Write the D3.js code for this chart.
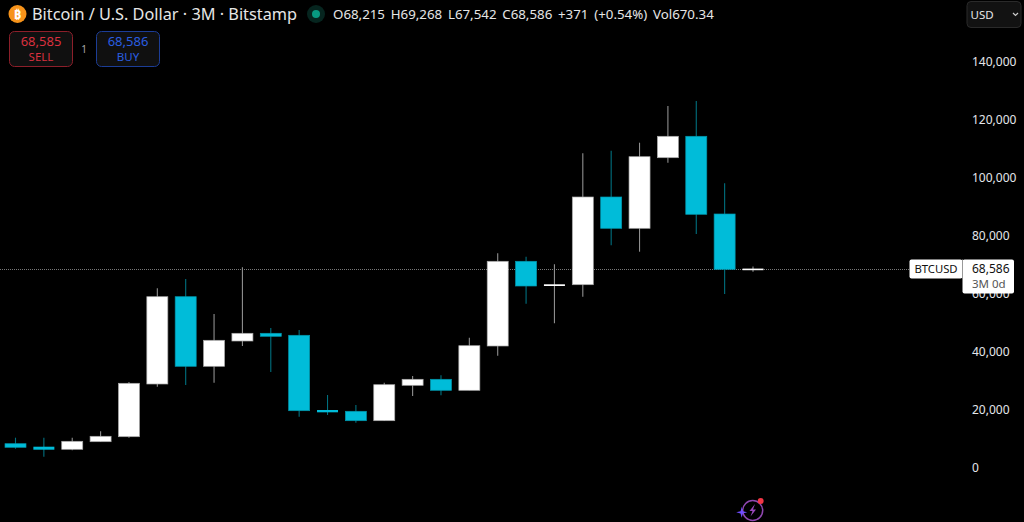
<!DOCTYPE html>
<html>
<head>
<meta charset="utf-8">
<script src="https://d3js.org/d3.v7.min.js"></script>
<style>
  html, body { margin: 0; padding: 0; background: #000; overflow: hidden; }
  text { font-family: "Noto Sans", sans-serif; }
</style>
</head>
<body>
<svg id="chart" width="1024" height="522"></svg>
<script>
// Quarterly candles
var opens  = [8207, 7172, 6276, 8897, 10620, 28793, 58896, 34897, 43620, 46276, 45586, 19828, 19379, 16138, 28345, 30414, 26621, 41897, 71103, 62586, 63034, 93276, 82483, 106828, 114207, 87414, 68215];
var highs  = [10276, 10276, 10276, 12483, 29500, 61793, 65000, 52931, 69034, 48103, 47414, 25000, 21552, 29241, 31552, 31793, 44759, 73862, 72690, 70069, 108345, 109241, 112000, 124655, 126379, 98000, 69268];
var lows   = [6483, 3724, 5931, 8900, 10276, 27862, 28448, 29241, 41897, 32931, 17517, 18103, 15448, 16138, 24655, 24897, 26621, 38552, 56483, 49724, 58897, 76621, 74414, 105103, 80517, 59828, 67542];
var closes = [6966, 6138, 9034, 10759, 29034, 58896, 34897, 43862, 46276, 45241, 19586, 19034, 16138, 28552, 30414, 26621, 42000, 71103, 62586, 63172, 93276, 82483, 107172, 114207, 87310, 68345, 68586];
var yTicks = [0, 20000, 40000, 60000, 80000, 100000, 120000, 140000];
var lastClose = closes[closes.length - 1];

var svg = d3.select("#chart");

var x = d3.scaleLinear().domain([0, opens.length - 1]).range([15.5, 753]);
var y = d3.scaleLinear().domain([0, 140000]).range([467.5, 61.5]);
var bodyWidth = 21;
var fmt = d3.format(",");

// Price axis
var axis = d3.axisRight(y).tickValues(yTicks).tickSize(0).tickPadding(0).tickFormat(fmt);
var axisG = svg.append("g").attr("transform", "translate(972,0)").call(axis);
axisG.select(".domain").remove();
axisG.selectAll("text")
  .attr("fill", "#e4e6eb")
  .style("font-size", "12px")
  .style("font-family", "'Noto Sans', sans-serif");

// Last price line
var lastY = Math.round(y(lastClose)) + 0.5;
svg.append("line")
  .attr("x1", 0).attr("x2", 910)
  .attr("y1", lastY).attr("y2", lastY)
  .attr("stroke", "#777").attr("stroke-dasharray", "1,1");

// Candles
var candles = svg.selectAll("g.candle").data(opens).enter().append("g").attr("class", "candle");

candles.append("line")
  .attr("x1", (d, i) => x(i)).attr("x2", (d, i) => x(i))
  .attr("y1", (d, i) => y(highs[i])).attr("y2", (d, i) => y(lows[i]))
  .attr("stroke", (d, i) => closes[i] >= opens[i] ? "#8f8f8f" : "#00707f")
  .attr("stroke-width", 1.1);

candles.append("rect")
  .attr("x", (d, i) => x(i) - bodyWidth / 2)
  .attr("width", bodyWidth)
  .attr("y", (d, i) => y(Math.max(opens[i], closes[i])))
  .attr("height", (d, i) => Math.max(1.6, Math.abs(y(opens[i]) - y(closes[i]))))
  .attr("fill", (d, i) => closes[i] >= opens[i] ? "#ffffff" : "#00bcd9")
  .attr("stroke", (d, i) => {
    // very thin bodies would turn all border, so leave those unframed
    if (Math.abs(y(opens[i]) - y(closes[i])) < 3) return "none";
    return closes[i] >= opens[i] ? "#a8a8a8" : "#0095ab";
  })
  .attr("stroke-width", 0.7);

// Header
svg.append("circle").attr("cx", 17.5).attr("cy", 14).attr("r", 9).attr("fill", "#f7931a");
svg.append("text").attr("x", 17.5).attr("y", 19).attr("text-anchor", "middle")
  .attr("fill", "#fff").style("font-size", "13px").style("font-weight", 700).text("₿");
svg.append("text").attr("x", 32).attr("y", 20)
  .attr("fill", "#e6e6e6").style("font-size", "16.3px")
  .text("Bitcoin / U.S. Dollar · 3M · Bitstamp");

svg.append("circle").attr("cx", 316).attr("cy", 14).attr("r", 9).attr("fill", "#06251f");
svg.append("circle").attr("cx", 316).attr("cy", 14).attr("r", 4).attr("fill", "#089981");

svg.append("text").attr("x", 333).attr("y", 19)
  .attr("fill", "#e6e6e6").style("font-size", "13.3px").style("word-spacing", "2.3px")
  .text("O" + fmt(opens[26]) + " H" + fmt(highs[26]) + " L" + fmt(lows[26]) + " C" + fmt(closes[26]) + " +371 (+0.54%) Vol670.34");

// Sell / buy buttons
function tradeBox(left, width, stroke, color, price, label) {
  svg.append("rect").attr("x", left).attr("y", 31.5).attr("width", width).attr("height", 35)
    .attr("rx", 5).attr("fill", "#101010").attr("stroke", stroke);
  svg.append("text").attr("x", left + width / 2).attr("y", 46).attr("text-anchor", "middle")
    .attr("fill", color).style("font-size", "13px").text(price);
  svg.append("text").attr("x", left + width / 2).attr("y", 60.5).attr("text-anchor", "middle")
    .attr("fill", color).style("font-size", "11.5px").text(label);
}
tradeBox(9.5, 63, "#8c1f2a", "#d9303f", "68,585", "SELL");
tradeBox(96.5, 63, "#1c3d96", "#2a5ee0", "68,586", "BUY");
svg.append("text").attr("x", 84).attr("y", 53).attr("text-anchor", "middle")
  .attr("fill", "#aaa").style("font-size", "10px").text("1");

// Currency dropdown
svg.append("rect").attr("x", 967).attr("y", 1.5).attr("width", 54).attr("height", 26)
  .attr("rx", 4).attr("fill", "#121212").attr("stroke", "#2a2a2a");
svg.append("text").attr("x", 970.5).attr("y", 19).attr("fill", "#e6e6e6")
  .style("font-size", "11.5px").text("USD");
svg.append("path").attr("d", d3.line()([[1013, 13], [1015.5, 15.5], [1018, 13]]))
  .attr("fill", "none").attr("stroke", "#ccc").attr("stroke-width", 1.2);

// Price label on the axis
svg.append("rect").attr("x", 962.5).attr("y", 259.5).attr("width", 51.5).attr("height", 34)
  .attr("rx", 2).attr("fill", "#fff");
svg.append("rect").attr("x", 909.5).attr("y", 259.5).attr("width", 53).attr("height", 19)
  .attr("rx", 2).attr("fill", "#fff");
svg.append("line").attr("x1", 962.5).attr("x2", 962.5).attr("y1", 259.5).attr("y2", 278.5).attr("stroke", "#999");
svg.append("text").attr("x", 936).attr("y", 273).attr("text-anchor", "middle")
  .attr("fill", "#111").style("font-size", "11.3px").text("BTCUSD");
svg.append("text").attr("x", 972).attr("y", 273)
  .attr("fill", "#111").style("font-size", "12px").text(fmt(lastClose));
svg.append("text").attr("x", 972).attr("y", 288)
  .attr("fill", "#555").style("font-size", "11.5px").text("3M 0d");

// Bottom badge
svg.append("circle").attr("cx", 752.7).attr("cy", 510.5).attr("r", 10)
  .attr("fill", "none").attr("stroke", "#8f47b0").attr("stroke-width", 1.5);
svg.append("path").attr("d", d3.line()([[755, 504], [749.5, 511], [752.5, 511], [750.5, 516.5], [756, 509.5], [753, 509.5]]))
  .attr("fill", "#9a48bc");
var sparkle = d3.lineRadial().radius((d, i) => i % 2 ? 1.6 : 5.5).angle((d, i) => i * Math.PI / 4);
svg.append("path").attr("d", sparkle([0, 1, 2, 3, 4, 5, 6, 7]) + "Z")
  .attr("transform", "translate(741.7,512.3)").attr("fill", "#6f4dff");
svg.append("circle").attr("cx", 760.7).attr("cy", 501).attr("r", 3).attr("fill", "#f23645");
</script>
</body>
</html>
